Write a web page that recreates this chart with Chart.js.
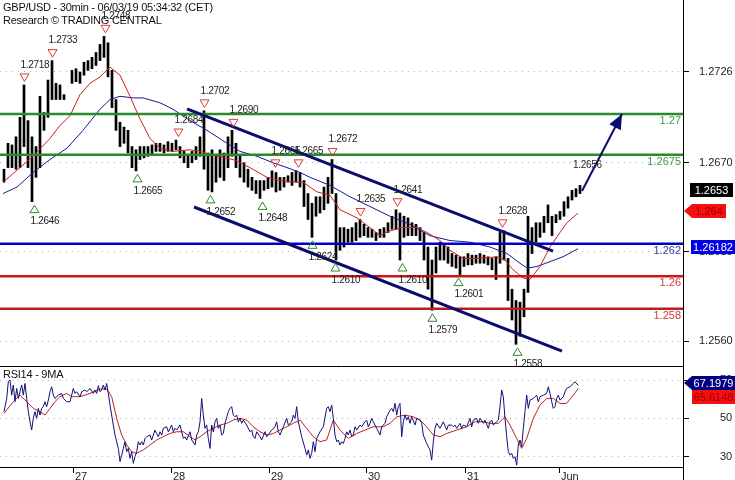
<!DOCTYPE html>
<html><head><meta charset="utf-8">
<script src="https://cdn.jsdelivr.net/npm/chart.js@4.4.1/dist/chart.umd.min.js"></script>
<style>
html,body{margin:0;padding:0;background:#fff;}
#wrap{position:relative;width:735px;height:480px;overflow:hidden;font-family:"Liberation Sans",Arial,sans-serif;}
#c1{position:absolute;left:0;top:0;}
#c2{position:absolute;left:0;top:367px;}
.t{position:absolute;left:3px;font-size:11px;line-height:13px;color:#111;letter-spacing:-0.25px;white-space:nowrap;}
</style></head><body>
<div id="wrap">
<canvas id="c1" width="735" height="367"></canvas>
<canvas id="c2" width="735" height="113"></canvas>
<div class="t" style="top:1px">GBP/USD - 30min - 06/03/19 05:34:32 (CET)</div>
<div class="t" style="top:14px">Research © TRADING CENTRAL</div>
<div class="t" style="top:368px">RSI14 - 9MA</div>
</div>
<script>
// ---------- DATA ----------
// x unit: "slot" (~1 hour); day boundaries below
const dayTickPos = [18.25, 42.75, 67.25, 91.5, 116.25, 139.75];
const dayLabels = ['27','28','29','30','31','Jun'];
const priceTicks = [1.2560, 1.2615, 1.2670, 1.2726];
const rsiTicks = [30, 50, 70];

// hourly high/low ranges [low, high]; first bar at slot 1
const firstSlot = 1;
const bars = [
[1.2658,1.2666],[1.2667,1.2682],[1.2667,1.2681],[1.2666,1.2686],[1.2667,1.2698],[1.2680,1.2718],[1.2667,1.2696],[1.2646,1.2686],
[1.2661,1.2680],[1.2667,1.2711],[1.2690,1.2701],[1.2698,1.2721],[1.2709,1.2733],[1.2709,1.2719],[1.2709,1.2718],[1.2709,1.2712],
null,[1.2719,1.2727],[1.2720,1.2728],[1.2719,1.2726],[1.2724,1.2732],[1.2727,1.2733],[1.2728,1.2735],[1.2730,1.2738],
[1.2733,1.2743],[1.2735,1.2748],[1.2723,1.2744],[1.2704,1.2727],[1.2690,1.2709],[1.2680,1.2695],[1.2682,1.2692],[1.2676,1.2690],
[1.2667,1.2680],[1.2665,1.2678],[1.2672,1.2680],[1.2673,1.2680],[1.2674,1.2680],[1.2675,1.2681],[1.2677,1.2682],[1.2677,1.2682],
[1.2676,1.2681],[1.2677,1.2683],[1.2677,1.2682],[1.2678,1.2684],[1.2673,1.2680],[1.2670,1.2677],[1.2667,1.2675],[1.2670,1.2677],
[1.2672,1.2680],[1.2674,1.2686],[1.2666,1.2702],[1.2653,1.2676],[1.2652,1.2678],[1.2658,1.2674],[1.2661,1.2678],[1.2659,1.2676],
[1.2667,1.2686],[1.2674,1.2690],[1.2667,1.2682],[1.2661,1.2674],[1.2658,1.2670],[1.2655,1.2666],[1.2653,1.2661],[1.2651,1.2659],
[1.2648,1.2659],[1.2653,1.2659],[1.2654,1.2661],[1.2655,1.2665],[1.2652,1.2664],[1.2653,1.2661],[1.2655,1.2661],[1.2658,1.2662],
[1.2656,1.2664],[1.2658,1.2665],[1.2655,1.2664],[1.2643,1.2659],[1.2635,1.2651],[1.2624,1.2645],[1.2637,1.2649],[1.2639,1.2649],
[1.2641,1.2655],[1.2645,1.2661],[1.2651,1.2672],[1.2610,1.2651],[1.2616,1.2630],[1.2618,1.2630],[1.2621,1.2629],[1.2621,1.2630],
[1.2622,1.2633],[1.2624,1.2635],[1.2625,1.2632],[1.2624,1.2630],[1.2624,1.2629],[1.2622,1.2627],[1.2624,1.2629],[1.2624,1.2630],
[1.2627,1.2633],[1.2629,1.2637],[1.2629,1.2641],[1.2610,1.2639],[1.2624,1.2637],[1.2625,1.2636],[1.2625,1.2633],[1.2625,1.2632],
[1.2622,1.2630],[1.2610,1.2627],[1.2592,1.2618],[1.2579,1.2610],[1.2602,1.2618],[1.2610,1.2621],[1.2610,1.2619],[1.2608,1.2618],
[1.2606,1.2614],[1.2605,1.2613],[1.2601,1.2612],[1.2606,1.2612],[1.2607,1.2614],[1.2607,1.2613],[1.2608,1.2613],[1.2608,1.2614],
[1.2608,1.2613],[1.2607,1.2612],[1.2604,1.2611],[1.2598,1.2612],[1.2608,1.2627],[1.2610,1.2628],[1.2585,1.2611],[1.2573,1.2592],
[1.2558,1.2585],[1.2563,1.2584],[1.2575,1.2592],[1.2590,1.2637],[1.2614,1.2630],[1.2621,1.2633],[1.2624,1.2633],[1.2627,1.2637],
[1.2633,1.2644],[1.2625,1.2637],[1.2633,1.2638],[1.2635,1.2640],[1.2637,1.2646],[1.2642,1.2649],[1.2647,1.2653],[1.2649,1.2654],
[1.2651,1.2656]
];

const maFast = [[0.75,1.2658],[5,1.2667],[8.25,1.2674],[12.5,1.2685],[15,1.2693],[17.5,1.2699],[20,1.2712],[22.5,1.2719],[25,1.2723],[27.5,1.2729],[30,1.2724],[32.5,1.2711],[35,1.2697],[37.5,1.2685],[40,1.2679],[43.25,1.2677],[47.5,1.2678],[50,1.2677],[54.25,1.2674],[58.25,1.2672],[62.5,1.2667],[66.75,1.2661],[70,1.2659],[74.25,1.2658],[75.75,1.2658],[79.25,1.2652],[82.5,1.2650],[85,1.2641],[89.25,1.2636],[92.5,1.2630],[95,1.2625],[97.5,1.2628],[100.75,1.2630],[104.25,1.2630],[106.75,1.2627],[110,1.2622],[112.5,1.2616],[115.75,1.2611],[120,1.2611],[124.25,1.2612],[126.25,1.2610],[128.25,1.2604],[130.75,1.2599],[132.5,1.2598],[135,1.2606],[137.5,1.2618],[140,1.2627],[141.75,1.2633],[144.5,1.2639]];
const maSlow = [[0.75,1.2651],[4.25,1.2655],[8.25,1.2664],[12.5,1.2672],[16.75,1.2679],[20.75,1.2690],[25,1.2703],[27.5,1.2709],[30,1.2711],[33.25,1.2710],[35.75,1.2710],[40,1.2707],[43.25,1.2703],[47.5,1.2696],[51.75,1.2690],[56.75,1.2682],[60,1.2677],[64.25,1.2674],[68.25,1.2670],[71.75,1.2667],[75,1.2664],[77.5,1.2661],[82.5,1.2656],[87.5,1.2649],[92.5,1.2643],[97.5,1.2637],[102.5,1.2632],[107.5,1.2625],[112.5,1.2622],[117.5,1.2621],[122.5,1.2618],[126.75,1.2614],[130,1.2608],[131.75,1.2605],[134.25,1.2606],[137.5,1.2609],[140.75,1.2612],[144.5,1.2617]];

const levels = [1.27, 1.2675, 1.262, 1.26, 1.258];
const levelLabels = ['1.27','1.2675','1.262','1.26','1.258'];

const upperChannel = [[46.75,1.27032],[138.25,1.26155]];
const lowerChannel = [[48.5,1.26427],[140.5,1.25538]];
const arrowPts = [[145.5,1.26526],[155.5,1.27001]];

const highX = [6, 13, 26.25, 44.5, 51, 58.25, 68.75, 74.5, 83, 90, 99.25, 125.5];
const highV = [1.2718, 1.2733, 1.2748, 1.2684, 1.2702, 1.2690, 1.2665, 1.2665, 1.2672, 1.2635, 1.2641, 1.2628];
const openHighX = [144.25];
const openHighV = [1.2656];
const lowX = [8.5, 34.25, 52.5, 65.5, 78, 83.75, 100.5, 108, 114.5, 129.25];
const lowV = [1.2646, 1.2665, 1.2652, 1.2648, 1.2624, 1.2610, 1.2610, 1.2579, 1.2601, 1.2558];

const priceTags = [1.2653, 1.264, 1.26182];
const priceTagText = ['1.2653', '1.264', '1.26182'];
const rsiTags = [67.1979, 65.6148];
const rsiTagText = ['67.1979', '65.6148'];

const rsi14 = [
[1.0,53.5],[1.67,60.4],[2.08,69.1],[2.5,70.0],[2.92,62.1],[3.33,67.4],[3.75,58.7],[4.17,65.6],[4.58,60.4],[5.0,63.9],[5.42,67.4],[5.83,62.1],[6.25,68.2],[6.67,60.4],[7.08,53.5],[7.5,48.2],[7.92,43.9],[8.33,50.0],[8.75,53.5],[9.17,50.0],[9.58,55.2],[10.0,51.7],[10.42,55.2],[10.83,56.1],[11.25,58.7],[11.67,56.1],[12.08,59.5],[12.5,63.9],[12.92,66.5],[13.33,62.1],[13.75,60.4],[14.58,62.1],[15.42,63.0],[15.83,60.4],[16.67,58.7],[17.5,58.7],[17.92,62.1],[18.33,65.6],[18.75,63.0],[19.17,63.9],[20.0,61.3],[20.42,63.9],[21.25,64.8],[21.67,63.9],[22.5,65.6],[23.33,63.0],[23.75,64.8],[24.17,63.0],[24.58,67.0],[25.0,63.9],[25.42,64.8],[25.83,67.4],[26.25,64.8],[26.67,68.2],[27.08,63.0],[27.5,56.9],[28.33,46.5],[28.75,41.3],[29.17,37.8],[29.58,34.3],[30.0,27.4],[30.42,30.8],[30.83,34.3],[31.25,37.8],[31.67,32.6],[32.08,34.3],[32.5,29.1],[32.92,32.6],[33.33,26.5],[33.75,30.0],[34.17,32.6],[34.58,37.8],[35.0,36.1],[35.42,37.8],[35.83,36.1],[36.25,39.5],[36.67,40.4],[37.5,41.3],[37.92,38.7],[38.33,41.3],[38.75,43.9],[39.17,42.1],[39.58,40.4],[40.0,43.0],[40.42,41.3],[40.83,44.8],[41.67,45.6],[42.08,43.0],[42.92,46.5],[43.33,43.0],[43.75,44.8],[44.17,43.9],[45.0,46.5],[45.42,43.0],[45.83,39.5],[46.25,40.4],[46.67,38.7],[47.5,43.0],[47.92,38.7],[48.75,36.1],[49.17,41.3],[49.58,43.0],[50.0,48.2],[50.42,60.4],[50.83,51.7],[51.25,44.8],[51.67,46.5],[52.08,39.5],[52.5,34.3],[52.92,46.5],[53.33,43.0],[53.75,48.2],[54.17,50.0],[54.58,44.8],[55.0,46.5],[55.42,41.3],[55.83,42.1],[56.25,47.4],[57.08,53.5],[57.5,55.2],[57.92,56.1],[58.33,51.7],[58.75,50.8],[59.17,51.7],[59.58,48.2],[60.0,50.0],[60.42,47.4],[60.83,49.1],[61.67,46.5],[62.5,43.0],[62.92,43.9],[63.33,40.4],[63.75,39.5],[64.17,43.0],[65.0,40.4],[65.42,38.7],[66.25,43.0],[66.67,40.4],[67.92,43.9],[68.75,45.6],[69.17,48.2],[69.58,43.0],[70.0,41.3],[70.83,45.6],[71.67,50.0],[72.08,46.5],[72.92,48.2],[73.33,51.7],[73.75,50.0],[74.17,56.1],[74.58,48.2],
[75.42,40.4],[76.25,34.3],[76.67,30.8],[77.08,33.5],[77.5,29.1],[77.92,31.7],[78.33,37.8],[78.75,32.6],[79.17,39.5],[80.0,43.0],[80.83,45.6],[81.67,55.2],[82.08,56.1],[82.5,53.5],[82.92,56.9],[83.33,50.0],[83.75,41.3],[84.17,37.8],[84.58,38.7],[85.0,36.1],[85.42,37.8],[85.83,36.9],[86.25,39.5],[86.67,43.0],[87.08,41.3],[87.5,43.9],[87.92,40.4],[88.33,41.3],[88.75,45.6],[89.17,43.9],[90.0,46.5],[90.42,45.6],[91.25,48.2],[91.67,49.1],[92.08,45.6],[92.5,47.4],[92.92,50.0],[93.33,48.2],[94.17,44.8],[95.0,41.3],[95.42,45.6],[96.25,47.4],[96.67,50.8],[97.5,54.3],[97.92,55.2],[98.33,53.5],[98.75,57.8],[99.17,51.7],[99.58,56.1],[100.0,57.8],[100.42,40.4],[100.83,48.2],[101.25,51.7],[101.67,49.1],[102.08,50.8],[102.5,47.4],[102.92,50.8],[103.75,46.5],[104.17,50.0],[105.0,49.1],[105.42,47.4],[105.83,41.3],[106.67,36.9],[107.5,33.5],[107.92,28.2],[108.33,37.8],[108.75,44.8],[109.17,47.4],[110.0,44.8],[110.83,48.2],[111.67,43.9],[112.08,46.5],[112.92,46.5],[113.33,45.6],[113.75,46.5],[114.17,44.8],[115.0,47.4],[115.42,44.8],[115.83,46.5],[116.67,45.6],[117.5,50.0],[117.92,45.6],[118.33,49.1],[119.17,50.0],[119.58,47.4],[120.0,50.0],[120.83,47.4],[121.25,49.1],[122.08,44.8],[122.5,48.2],[122.92,49.1],[123.33,46.5],[124.58,49.1],[125.0,56.1],[125.42,64.8],[125.83,61.3],[126.25,50.0],[126.67,40.4],[127.08,32.6],[127.5,30.8],[127.92,31.7],[128.33,29.1],[128.75,30.0],[129.17,25.6],[129.58,36.1],[130.0,38.7],[130.42,35.2],[130.83,44.8],[131.25,53.5],[131.67,62.1],[132.08,55.2],[132.5,59.5],[133.33,60.4],[134.17,62.1],[134.58,58.7],[135.0,61.3],[135.83,62.1],[136.67,63.0],[137.08,66.5],[137.5,63.0],[137.92,58.7],[138.33,55.2],[138.75,56.1],[139.17,60.4],[139.58,62.1],[140.0,59.5],[140.83,61.3],[141.25,63.9],[141.67,65.6],[142.5,66.5],[143.33,68.2],[143.75,69.1],[144.58,67.2]
];
const rsiMA9 = [[1,52.6],[3.33,58.7],[5,62.1],[6.67,58.7],[8.33,55.2],[10,53.5],[11.25,51.7],[12.5,55.2],[13.75,58.7],[15,61.3],[16.67,63.0],[17.92,61.3],[20,61.3],[22.5,63.0],[25,65.3],[26.67,65.3],[27.92,61.3],[29.17,50.0],[30.42,41.3],[31.67,36.1],[32.92,32.6],[34.17,31.7],[35.83,33.5],[37.5,36.1],[39.17,38.7],[40.83,40.4],[42.5,42.1],[44.17,43.0],[45.83,43.0],[47.5,40.4],[48.75,38.7],[50,40.4],[51.67,43.0],[53.33,44.8],[55,46.5],[56.67,47.4],[58.33,49.1],[60,50.0],[61.67,49.1],[63.33,45.6],[65,43.0],[66.67,41.3],[68.33,42.1],[70,43.9],[71.67,45.6],[73.33,47.4],[75,49.1],[76.67,44.8],[78.33,40.4],[80,37.8],[81.67,38.7],[83.33,49.1],[85,43.9],[87.08,39.5],[89.17,42.1],[91.25,43.9],[93.33,45.6],[95.83,45.6],[97.5,47.4],[99.17,50.8],[101.25,51.7],[103.33,50.8],[105,49.1],[106.67,45.6],[108.33,41.3],[110,40.4],[111.67,42.1],[114.17,43.9],[116.67,45.6],[118.75,48.2],[120.83,48.2],[122.5,47.4],[124.58,47.4],[126.25,50.8],[127.5,46.5],[129.17,39.5],[130.42,34.3],[131.67,39.5],[133.33,50.0],[135,56.9],[136.67,60.4],[138.33,60.4],[140,57.8],[141.67,57.8],[143.33,62.1],[144.58,65.6]];

// ---------- RENDER ----------
const FONT = '"Liberation Sans", Arial, sans-serif';
Chart.defaults.font.family = FONT;
Chart.defaults.font.size = 11;
Chart.defaults.color = '#222';
const XMIN = 0, XMAX = 170.75;
const NAVY = '#0c0c6e';
const levelColors = ['#2a8a2a','#2a8a2a','#0000cc','#d01515','#b82020'];
const levelTextColors = ['#3c9a3c','#3c9a3c','#3535a5','#d23a3a','#c83a3a'];
const xy = a => a.map(p => ({x:p[0], y:p[1]}));

const barData = [];
bars.forEach((b,i) => { if (b) barData.push({x: firstSlot + i, y: b}); });

function drawTag(ctx, text, cy, x0, x1, fill, color, arrow){
  const h = 14, top = Math.round(cy - h/2);
  ctx.fillStyle = fill;
  ctx.beginPath();
  if (arrow) { ctx.moveTo(x0, top + h/2); ctx.lineTo(x0+8, top); ctx.lineTo(x1, top); ctx.lineTo(x1, top+h); ctx.lineTo(x0+8, top+h); ctx.closePath(); }
  else ctx.rect(x0, top, x1-x0, h);
  ctx.fill();
  ctx.fillStyle = color;
  ctx.font = '11px ' + FONT;
  ctx.textAlign = 'center'; ctx.textBaseline = 'middle';
  ctx.fillText(text, arrow ? (x0+8+x1)/2 : (x0+x1)/2, top + h/2 + 0.5);
}

const mainDeco = {
  id: 'mainDeco',
  afterDatasetsDraw(chart){
    const {ctx, chartArea: a, scales: {x, y}} = chart;
    ctx.save();
    ctx.beginPath(); ctx.rect(a.left, a.top, a.right - a.left, a.bottom - a.top); ctx.clip();
    // arrow head
    const x1 = x.getPixelForValue(arrowPts[0][0]), y1 = y.getPixelForValue(arrowPts[0][1]);
    const x2 = x.getPixelForValue(arrowPts[1][0]), y2 = y.getPixelForValue(arrowPts[1][1]);
    const ang = Math.atan2(y2 - y1, x2 - x1), L = 15, W = 6.5;
    const bx = x2 - L*Math.cos(ang), by = y2 - L*Math.sin(ang);
    ctx.fillStyle = NAVY;
    ctx.beginPath(); ctx.moveTo(x2, y2);
    ctx.lineTo(bx + W*Math.sin(ang), by - W*Math.cos(ang));
    ctx.lineTo(bx - W*Math.sin(ang), by + W*Math.cos(ang));
    ctx.closePath(); ctx.fill();
    // swing markers
    ctx.lineWidth = 1;
    ctx.font = '10px ' + FONT;
    try { ctx.letterSpacing = '-0.3px'; } catch(e) {}
    ctx.textBaseline = 'middle'; ctx.textAlign = 'left';
    highX.forEach((v, i) => {
      const px = Math.round(x.getPixelForValue(v)) + 0.5, py = y.getPixelForValue(highV[i]);
      const cy = py - 7.5;
      ctx.strokeStyle = '#d83a3a';
      ctx.beginPath(); ctx.moveTo(px - 4.5, cy - 3.5); ctx.lineTo(px + 4.5, cy - 3.5); ctx.lineTo(px, cy + 4); ctx.closePath(); ctx.stroke();
      ctx.fillStyle = '#222'; ctx.fillText(highV[i].toFixed(4), px - 4, py - 20);
    });
    openHighX.forEach((v, i) => {
      const px = x.getPixelForValue(v), py = y.getPixelForValue(openHighV[i]);
      ctx.fillStyle = '#222'; ctx.fillText(openHighV[i].toFixed(4), px - 4, py - 20);
    });
    lowX.forEach((v, i) => {
      const px = Math.round(x.getPixelForValue(v)) + 0.5, py = y.getPixelForValue(lowV[i]);
      const cy = py + 7.5;
      ctx.strokeStyle = '#2a8a2a';
      ctx.beginPath(); ctx.moveTo(px - 4.5, cy + 3.5); ctx.lineTo(px + 4.5, cy + 3.5); ctx.lineTo(px, cy - 4); ctx.closePath(); ctx.stroke();
      ctx.fillStyle = '#222'; ctx.fillText(lowV[i].toFixed(4), px - 4, py + 20);
    });
    ctx.restore();
  },
  afterDraw(chart){
    const {ctx, chartArea: a, scales: {y}} = chart;
    ctx.save();
    // level labels
    ctx.font = '11px ' + FONT; ctx.textAlign = 'right'; ctx.textBaseline = 'middle';
    levels.forEach((lv, i) => { ctx.fillStyle = levelTextColors[i]; ctx.fillText(levelLabels[i], a.right - 2, y.getPixelForValue(lv) + 7); });
    // bottom border of price panel
    ctx.strokeStyle = '#000'; ctx.lineWidth = 1;
    ctx.beginPath(); ctx.moveTo(0, a.bottom - 0.5); ctx.lineTo(a.right, a.bottom - 0.5); ctx.stroke();
    // value tags
    drawTag(ctx, priceTagText[0], y.getPixelForValue(priceTags[0]), 690, 733, '#000', '#fff', false);
    drawTag(ctx, priceTagText[1], y.getPixelForValue(priceTags[1]), 684, 726, '#f41010', '#a00000', true);
    drawTag(ctx, priceTagText[2], y.getPixelForValue(priceTags[2]), 691, 735, '#0000e6', '#fff', false);
    ctx.restore();
  }
};

const rsiDeco = {
  id: 'rsiDeco',
  afterDraw(chart){
    const {ctx, chartArea: a, scales: {y}} = chart;
    ctx.save();
    ctx.strokeStyle = '#000'; ctx.lineWidth = 1;
    ctx.beginPath(); ctx.moveTo(a.right + 0.5, a.bottom); ctx.lineTo(a.right + 0.5, chart.height); ctx.stroke();
    const c1 = y.getPixelForValue(rsiTags[0]) - 2;
    const c2 = Math.max(y.getPixelForValue(rsiTags[1]), c1 + 14);
    drawTag(ctx, rsiTagText[1], c2, 692, 735, '#f41010', '#a00000', false);
    drawTag(ctx, rsiTagText[0], c1, 684, 735, '#000080', '#fff', true);
    ctx.restore();
  }
};

const yAxisCommon = {
  type: 'linear', position: 'right',
  grid: {color: '#b5b5b5', tickColor: '#000', tickLength: 6, tickBorderDash: [], drawTicks: true},
  border: {display: true, color: '#000', width: 1, dash: [1, 5]}
};

new Chart(document.getElementById('c1'), {
  type: 'line',
  data: { datasets: [
    {data: xy(arrowPts), borderColor: NAVY, borderWidth: 2, pointRadius: 0, order: 1},
    {data: xy(upperChannel), borderColor: NAVY, borderWidth: 3, pointRadius: 0, order: 2},
    {data: xy(lowerChannel), borderColor: NAVY, borderWidth: 3, pointRadius: 0, order: 2},
    ...levels.map((lv, i) => ({data: [{x: XMIN, y: lv}, {x: XMAX, y: lv}], borderColor: levelColors[i], borderWidth: 2.5, pointRadius: 0, order: 3})),
    {data: xy(maFast), borderColor: '#c82020', borderWidth: 1, pointRadius: 0, order: 4},
    {data: xy(maSlow), borderColor: '#1a1a90', borderWidth: 1, pointRadius: 0, order: 4},
    {type: 'bar', data: barData, backgroundColor: '#000', barThickness: 2, grouped: false, order: 5}
  ]},
  options: {
    responsive: false, animation: false, devicePixelRatio: 1,
    layout: {padding: 0},
    plugins: {legend: {display: false}, tooltip: {enabled: false}},
    scales: {
      x: {type: 'linear', min: XMIN, max: XMAX, display: false, offset: false, grid: {offset: false}},
      y: Object.assign({}, yAxisCommon, {
        min: 1.25440, max: 1.27704,
        afterFit(s){ s.width = 52; s.paddingTop = 0; s.paddingBottom = 0; },
        afterBuildTicks(s){ s.ticks = priceTicks.map(v => ({value: v})); },
        ticks: {callback: v => Number(v).toFixed(4), padding: 10, color: '#222', font: {size: 11}}
      })
    }
  },
  plugins: [mainDeco]
});

new Chart(document.getElementById('c2'), {
  type: 'line',
  data: { datasets: [
    {data: xy(rsi14), borderColor: '#101078', borderWidth: 1, pointRadius: 0, order: 1},
    {data: xy(rsiMA9), borderColor: '#c02020', borderWidth: 1, pointRadius: 0, order: 2}
  ]},
  options: {
    responsive: false, animation: false, devicePixelRatio: 1,
    layout: {padding: 0},
    plugins: {legend: {display: false}, tooltip: {enabled: false}},
    scales: {
      x: {type: 'linear', min: XMIN, max: XMAX, offset: false,
        afterFit(s){ s.height = 13; s.paddingLeft = 0; s.paddingRight = 0; },
        afterBuildTicks(s){ s.ticks = dayTickPos.map(v => ({value: v})); },
        ticks: {callback: (v, i) => dayLabels[i], align: 'start', labelOffset: 2, padding: -3, maxRotation: 0, autoSkip: false, color: '#222', font: {size: 11}},
        grid: {drawOnChartArea: false, drawTicks: true, tickLength: 6, tickColor: '#000'},
        border: {display: true, color: '#000', width: 1}
      },
      y: Object.assign({}, yAxisCommon, {
        min: 24.6, max: 76.8,
        afterFit(s){ s.width = 52; s.paddingTop = 0; s.paddingBottom = 0; },
        afterBuildTicks(s){ s.ticks = rsiTicks.map(v => ({value: v})); },
        ticks: {callback: v => String(v), padding: 31, color: '#222', font: {size: 11}}
      })
    }
  },
  plugins: [rsiDeco]
});
</script>
</body></html>
